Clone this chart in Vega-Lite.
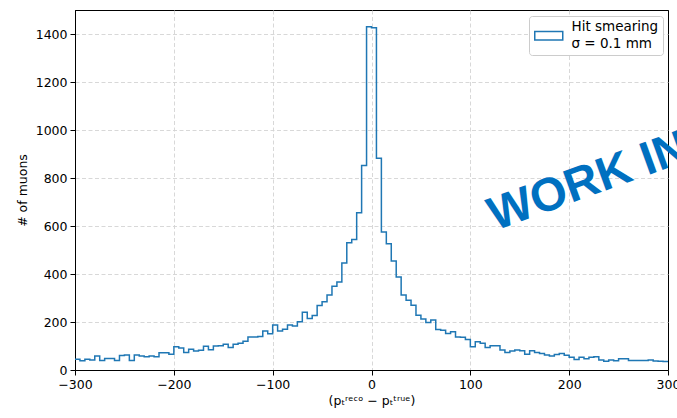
{
  "$schema": "https://vega.github.io/schema/vega-lite/v6.json",
  "width": 593,
  "height": 360,
  "autosize": {"type": "none"},
  "padding": {"left": 75, "top": 10, "right": 9, "bottom": 48},
  "background": "white",
  "config": {
    "font": "DejaVu Sans",
    "view": {"stroke": "black", "strokeWidth": 1},
    "style": {"guide-label": {"lineHeight": 17}},
    "axis": {
      "domainColor": "black",
      "domainWidth": 1,
      "tickColor": "black",
      "tickSize": 5,
      "tickWidth": 1,
      "labelColor": "black",
      "labelFontSize": 12.5,
      "labelPadding": 3,
      "labelFlush": false,
      "titleColor": "black",
      "titleFontSize": 12.5,
      "titleFontWeight": "normal",
      "gridColor": "#d4d4d4",
      "gridDash": [4, 2.5],
      "gridWidth": 0.9
    }
  },
  "datasets": {
    "hist": [
      {"x": -300, "n": 45}, {"x": -295, "n": 39}, {"x": -290, "n": 45}, {"x": -285, "n": 42},
      {"x": -280, "n": 58}, {"x": -275, "n": 40}, {"x": -270, "n": 48}, {"x": -265, "n": 48},
      {"x": -260, "n": 40}, {"x": -255, "n": 60}, {"x": -250, "n": 62}, {"x": -245, "n": 40},
      {"x": -240, "n": 63}, {"x": -235, "n": 58}, {"x": -230, "n": 55}, {"x": -225, "n": 58},
      {"x": -220, "n": 55}, {"x": -215, "n": 72}, {"x": -210, "n": 72}, {"x": -205, "n": 66},
      {"x": -200, "n": 97}, {"x": -195, "n": 92}, {"x": -190, "n": 73}, {"x": -185, "n": 86},
      {"x": -180, "n": 79}, {"x": -175, "n": 82}, {"x": -170, "n": 99}, {"x": -165, "n": 84},
      {"x": -160, "n": 100}, {"x": -155, "n": 101}, {"x": -150, "n": 107}, {"x": -145, "n": 94},
      {"x": -140, "n": 107}, {"x": -135, "n": 111}, {"x": -130, "n": 120}, {"x": -125, "n": 138},
      {"x": -120, "n": 138}, {"x": -115, "n": 140}, {"x": -110, "n": 163}, {"x": -105, "n": 151},
      {"x": -100, "n": 187}, {"x": -95, "n": 163}, {"x": -90, "n": 170}, {"x": -85, "n": 187},
      {"x": -80, "n": 183}, {"x": -75, "n": 201}, {"x": -70, "n": 241}, {"x": -65, "n": 215},
      {"x": -60, "n": 227}, {"x": -55, "n": 269}, {"x": -50, "n": 284}, {"x": -45, "n": 312},
      {"x": -40, "n": 349}, {"x": -35, "n": 367}, {"x": -30, "n": 446}, {"x": -25, "n": 530},
      {"x": -20, "n": 544}, {"x": -15, "n": 655}, {"x": -10, "n": 852}, {"x": -5, "n": 1430},
      {"x": 0, "n": 1426}, {"x": 5, "n": 882}, {"x": 10, "n": 575}, {"x": 15, "n": 526},
      {"x": 20, "n": 454}, {"x": 25, "n": 388}, {"x": 30, "n": 312}, {"x": 35, "n": 291},
      {"x": 40, "n": 270}, {"x": 45, "n": 228}, {"x": 50, "n": 212}, {"x": 55, "n": 198},
      {"x": 60, "n": 208}, {"x": 65, "n": 169}, {"x": 70, "n": 166}, {"x": 75, "n": 152},
      {"x": 80, "n": 159}, {"x": 85, "n": 138}, {"x": 90, "n": 136}, {"x": 95, "n": 127},
      {"x": 100, "n": 97}, {"x": 105, "n": 118}, {"x": 110, "n": 111}, {"x": 115, "n": 94},
      {"x": 120, "n": 101}, {"x": 125, "n": 101}, {"x": 130, "n": 83}, {"x": 135, "n": 73},
      {"x": 140, "n": 79}, {"x": 145, "n": 83}, {"x": 150, "n": 80}, {"x": 155, "n": 66},
      {"x": 160, "n": 80}, {"x": 165, "n": 73}, {"x": 170, "n": 69}, {"x": 175, "n": 62},
      {"x": 180, "n": 58}, {"x": 185, "n": 65}, {"x": 190, "n": 69}, {"x": 195, "n": 61},
      {"x": 200, "n": 53}, {"x": 205, "n": 44}, {"x": 210, "n": 53}, {"x": 215, "n": 47},
      {"x": 220, "n": 53}, {"x": 225, "n": 55}, {"x": 230, "n": 42}, {"x": 235, "n": 36},
      {"x": 240, "n": 42}, {"x": 245, "n": 39}, {"x": 250, "n": 47}, {"x": 255, "n": 47},
      {"x": 260, "n": 40}, {"x": 265, "n": 40}, {"x": 270, "n": 40}, {"x": 275, "n": 40},
      {"x": 280, "n": 42}, {"x": 285, "n": 38}, {"x": 290, "n": 36}, {"x": 295, "n": 35},
      {"x": 300, "n": 35}
    ],
    "mark": [
      {"x": 125, "y": 580, "label": "WORK IN PROGRESS"}
    ]
  },
  "layer": [
    {
      "data": {"name": "hist"},
      "mark": {"type": "line", "interpolate": "step-after", "strokeWidth": 1.5, "clip": true},
      "encoding": {
        "x": {
          "field": "x", "type": "quantitative",
          "scale": {"domain": [-300, 300], "nice": false, "zero": false},
          "axis": {
            "values": [-300, -200, -100, 0, 100, 200, 300],
            "title": "(pₜʳᵉᶜᵒ − pₜᵗʳᵘᵉ)",
            "titlePadding": 4,
            "gridColor": {"condition": {"test": "abs(datum.value) == 300", "value": "black"}, "value": "#d4d4d4"},
            "gridDash": {"condition": {"test": "abs(datum.value) == 300", "value": []}, "value": [4, 2.5]},
            "gridWidth": {"condition": {"test": "abs(datum.value) == 300", "value": 1}, "value": 0.9}
          }
        },
        "y": {
          "field": "n", "type": "quantitative",
          "scale": {"domain": [0, 1500], "nice": false},
          "axis": {"values": [0, 200, 400, 600, 800, 1000, 1200, 1400], "format": "d", "title": "# of muons", "titlePadding": 6}
        },
        "color": {
          "datum": "Hit smearing",
          "scale": {"range": ["#1f77b4"]},
          "legend": {
            "title": null,
            "orient": "none",
            "legendX": 454,
            "legendY": 6,
            "padding": 4,
            "strokeColor": "#cccccc",
            "fillColor": "white",
            "cornerRadius": 3,
            "symbolType": "M-1,0.96H4.6V2.64H-1Z",
            "symbolSize": 100,
            "symbolFillColor": "white",
            "symbolStrokeColor": "#1f77b4",
            "symbolStrokeWidth": 1.5,
            "labelFontSize": 13.5,
            "labelColor": "black",
            "labelOffset": 25,
            "labelLimit": 200,
            "labelExpr": "['Hit smearing', 'σ = 0.1 mm']"
          }
        }
      }
    },
    {
      "data": {"name": "mark"},
      "mark": {"type": "text", "font": "Liberation Sans", "fontWeight": "bold", "fontSize": 47, "color": "#0070c0", "angle": -20, "align": "left", "baseline": "alphabetic"},
      "encoding": {
        "x": {"field": "x", "type": "quantitative"},
        "y": {"field": "y", "type": "quantitative"},
        "text": {"field": "label"}
      }
    }
  ]
}
